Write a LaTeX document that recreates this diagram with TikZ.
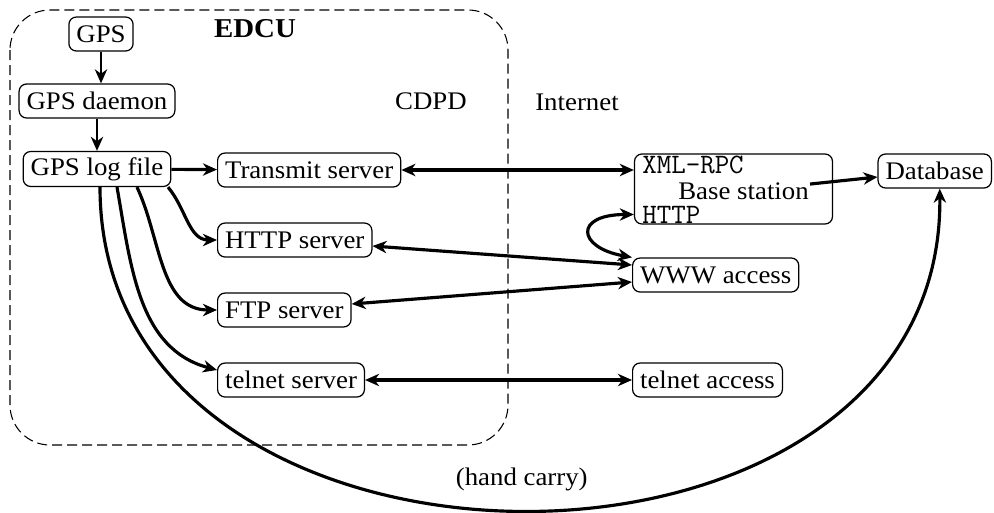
\documentclass[tikz,border=0pt]{standalone}
\usepackage{fontspec}
\setmainfont{Liberation Serif}[FakeStretch=1.06]
\usepackage{tikz}
\usetikzlibrary{arrows.meta,calc}
\newcommand{\figfont}{\fontsize{14.4}{17}\selectfont}
\newcommand{\portfont}{\fontsize{16}{18}\selectfont\ttfamily}
\tikzset{>={Stealth[length=8pt,width=7pt,inset=2.5pt]}}
\tikzset{box/.style={draw,rounded corners=0.15cm,line width=0.7pt,minimum height=0.68cm,inner xsep=0.15cm},
  lbl/.style={inner sep=0.02cm},
  link/.style={line width=1.8pt},
  feed/.style={line width=1.2pt}}

\begin{document}
\begin{tikzpicture}[every node/.style={font=\figfont}]
  \useasboundingbox (0,0) rectangle (19.88,-10.24);
  \draw[line width=0.6pt,dash pattern=on 0.2cm off 0.1cm,rounded corners=0.8cm] (0.2,-0.2) rectangle (10.16,-8.9);
  \node[box] (gps) at (2.02,-0.68) {GPS};
  \node[font=\fontsize{15.5}{18}\selectfont\bfseries,anchor=base] (edcu) at (5.1,-0.74) {EDCU};
  \node[box] (daemon) at (1.94,-2.02) {GPS daemon};
  \node[box] (logfile) at (1.94,-3.38) {GPS log file};
  \node (cdpd) at (8.62,-2.02) {CDPD};
  \node (internet) at (11.54,-2.04) {Internet};
  \node[box,anchor=west] (transmit) at (4.34,-3.4) {Transmit server};
  \node[box,anchor=west] (httpsrv) at (4.34,-4.8) {HTTP server};
  \node[box,anchor=west] (ftpsrv) at (4.34,-6.2) {FTP server};
  \node[box,anchor=west] (telnetsrv) at (4.34,-7.6) {telnet server};
  \node[box,minimum width=3.96cm,minimum height=1.4cm] (base) at (14.67,-3.78) {};
  \node[lbl,anchor=west,font=\portfont] (xmlrpc) at (12.82,-3.3) {XML-RPC};
  \node[lbl,anchor=west] (bsname) at (13.54,-3.82) {Base station};
  \node[lbl,anchor=west,font=\portfont] (httplbl) at (12.82,-4.29) {HTTP};
  \node[box,anchor=east] (db) at (19.84,-3.42) {Database};
  \node[box,anchor=west] (www) at (12.64,-5.5) {WWW access};
  \node[box,anchor=west] (telnetacc) at (12.64,-7.6) {telnet access};

  \draw[->,feed] (gps.south) -- (gps.south |- daemon.north);
  \draw[->,feed] (daemon.south) -- (daemon.south |- logfile.north);
  \draw[->,link] (logfile) -- (transmit);
  \draw[<->,link] (transmit) -- (transmit -| base.west);
  \draw[->,link] (bsname) -- (db);
  \draw[<->,link] (httplbl.west -| base.west) .. controls +(-1.2,0) and +(-1.1,0.2) .. (www.north west);
  \draw[<->,link] ([yshift=-0.12cm]httpsrv.east) -- ([yshift=0.2cm]www.west);
  \draw[<->,link] ([yshift=0.12cm]ftpsrv.east) -- ([yshift=-0.14cm]www.west);
  \draw[<->,link] (telnetsrv) -- (telnetacc);
  \draw[->,link] ([xshift=1.42cm]logfile.south) to[out=-50,in=180] (httpsrv.west);
  \draw[->,link] ([xshift=0.8cm]logfile.south) to[out=-65,in=180] (ftpsrv.west);
  \draw[->,link] ([xshift=0.4cm]logfile.south) to[out=-80,in=165] ([yshift=0.2cm]telnetsrv.west);
  \draw[->,link] ([xshift=0.06cm]logfile.south) .. controls +(0,-8.6) and +(0.1,-8.6) .. node[midway,above=0.24cm] {(hand carry)} ([xshift=0.1cm]db.south);
\end{tikzpicture}
\end{document}
